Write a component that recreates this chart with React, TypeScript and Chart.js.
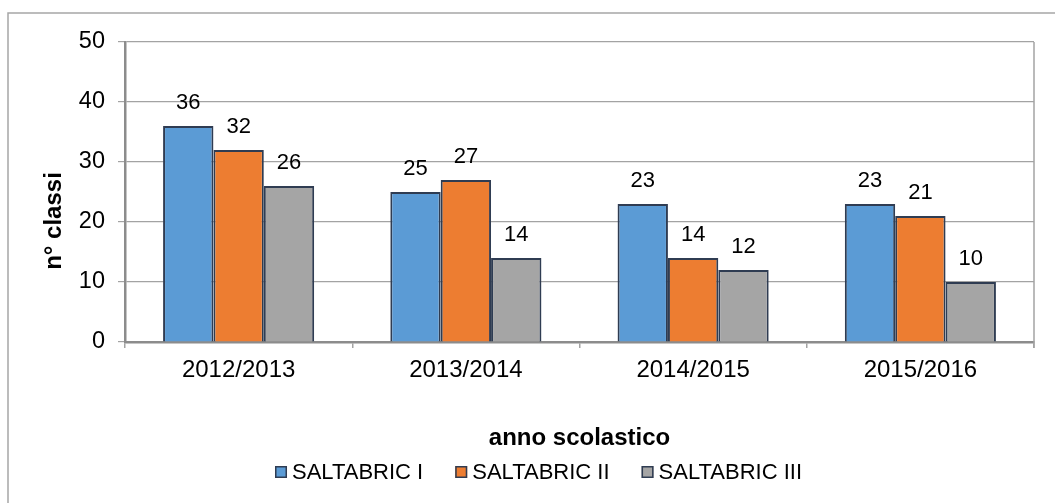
import React, { useEffect, useRef } from "react";
import { Chart, registerables } from "chart.js";

Chart.register(...registerables);

const categories = ["2012/2013", "2013/2014", "2014/2015", "2015/2016"];
const seriesNames = ["SALTABRIC I", "SALTABRIC II", "SALTABRIC III"];
const saltabricI = [36, 25, 23, 23];
const saltabricII = [32, 27, 14, 21];
const saltabricIII = [26, 14, 12, 10];
const yTicks = [0, 10, 20, 30, 40, 50];
const seriesColors = ["#5B9BD5", "#ED7D31", "#A5A5A5"];
const yTitle = "n° classi";
const xTitle = "anno scolastico";

const FONT = '"Liberation Sans", Arial, sans-serif';
const BAR_BORDER = "#2f3c52";
const GRID = "#a3a3a3";
const AXIS = "#8c8c8c";

const outerBorder = {
  id: "outerBorder",
  beforeDraw(chart: any) {
    const { ctx, width, height } = chart;
    ctx.save();
    ctx.fillStyle = "#ffffff";
    ctx.fillRect(0, 0, width, height);
    ctx.strokeStyle = "#a6a6a6";
    ctx.lineWidth = 1.5;
    ctx.strokeRect(8, 13, width + 100, height + 100);
    ctx.restore();
  },
};

const rightEdge = {
  id: "rightEdge",
  afterDraw(chart: any) {
    const { ctx, chartArea } = chart;
    ctx.save();
    ctx.strokeStyle = GRID;
    ctx.lineWidth = 1.5;
    ctx.beginPath();
    ctx.moveTo(chartArea.right, chartArea.top);
    ctx.lineTo(chartArea.right, chartArea.bottom + 6);
    ctx.stroke();
    ctx.restore();
  },
};

const dataLabels = {
  id: "dataLabels",
  afterDatasetsDraw(chart: any) {
    const { ctx } = chart;
    ctx.save();
    ctx.font = `22px ${FONT}`;
    ctx.fillStyle = "#000000";
    ctx.textAlign = "center";
    ctx.textBaseline = "middle";
    chart.data.datasets.forEach((ds: any, di: number) => {
      const meta = chart.getDatasetMeta(di);
      meta.data.forEach((el: any, i: number) => {
        ctx.fillText(String(ds.data[i]), el.x, el.y - 23);
      });
    });
    ctx.restore();
  },
};

const yTitlePlugin = {
  id: "yTitlePlugin",
  afterDraw(chart: any) {
    const { ctx } = chart;
    ctx.save();
    ctx.translate(54, 221);
    ctx.rotate(-Math.PI / 2);
    ctx.font = `bold 24px ${FONT}`;
    ctx.fillStyle = "#000000";
    ctx.textAlign = "center";
    ctx.textBaseline = "middle";
    ctx.fillText(yTitle, 0, 0);
    ctx.restore();
  },
};

const customLegend = {
  id: "customLegend",
  afterDraw(chart: any) {
    const { ctx } = chart;
    ctx.save();
    ctx.font = `22px ${FONT}`;
    const box = 12;
    const gapText = 5;
    const gapItem = 32;
    const items = chart.data.datasets.map((ds: any) => ({
      label: ds.label,
      color: ds.backgroundColor,
      w: ctx.measureText(ds.label).width,
    }));
    const total =
      items.reduce((s: number, it: any) => s + box + gapText + it.w, 0) +
      gapItem * (items.length - 1);
    let x = 538.5 - total / 2;
    const baseline = 479;
    items.forEach((it: any) => {
      ctx.fillStyle = it.color;
      ctx.fillRect(x, 466, box, box);
      ctx.strokeStyle = BAR_BORDER;
      ctx.lineWidth = 1.5;
      ctx.strokeRect(x + 0.75, 466.75, box - 1.5, box - 1.5);
      ctx.fillStyle = "#000000";
      ctx.textAlign = "left";
      ctx.textBaseline = "alphabetic";
      ctx.fillText(it.label, x + box + gapText, baseline);
      x += box + gapText + it.w + gapItem;
    });
    ctx.restore();
  },
};

export default function App() {
  const ref = useRef<HTMLCanvasElement | null>(null);

  useEffect(() => {
    if (!ref.current) return;
    const series = [saltabricI, saltabricII, saltabricIII];
    const chart = new Chart(ref.current, {
      type: "bar",
      data: {
        labels: categories,
        datasets: series.map((d, i) => ({
          label: seriesNames[i],
          data: d,
          backgroundColor: seriesColors[i],
          borderColor: BAR_BORDER,
          borderWidth: 2,
          borderSkipped: "bottom",
          categoryPercentage: 0.665,
          barPercentage: 1.0,
        })),
      },
      options: {
        responsive: false,
        devicePixelRatio: 1,
        animation: false,
        layout: { padding: { left: 0, top: 42, right: 21, bottom: 0 } },
        plugins: {
          legend: { display: false },
          tooltip: { enabled: false },
          title: { display: false },
        },
        scales: {
          x: {
            afterFit: (scale: any) => {
              scale.height = 161;
            },
            grid: {
              display: true,
              drawOnChartArea: true,
              offset: true,
              color: () => "transparent",
              tickColor: GRID,
              tickLength: 6,
              lineWidth: 1.5,
            },
            border: { display: true, color: AXIS, width: 2.5 },
            ticks: {
              color: "#000000",
              font: { family: FONT, size: 24 },
              padding: 8,
              maxRotation: 0,
            },
            title: {
              display: true,
              text: xTitle,
              color: "#000000",
              font: { family: FONT, size: 24, weight: "bold" },
              padding: { top: 0, bottom: 50 },
            },
          },
          y: {
            min: yTicks[0],
            max: yTicks[yTicks.length - 1],
            afterFit: (scale: any) => {
              scale.width = 125;
            },
            afterBuildTicks: (scale: any) => {
              scale.ticks = yTicks.map((v) => ({ value: v }));
            },
            grid: {
              color: GRID,
              lineWidth: 1.2,
              tickLength: 7,
              tickColor: GRID,
            },
            border: { display: true, color: AXIS, width: 2.5 },
            ticks: {
              color: "#000000",
              font: { family: FONT, size: 23.5 },
              padding: 13,
            },
          },
        },
      },
      plugins: [outerBorder, dataLabels, rightEdge, yTitlePlugin, customLegend],
    });
    return () => chart.destroy();
  }, []);

  return (
    <canvas
      ref={ref}
      width={1055}
      height={503}
      style={{ position: "fixed", left: 0, top: 0, width: 1055, height: 503, display: "block" }}
    />
  );
}
